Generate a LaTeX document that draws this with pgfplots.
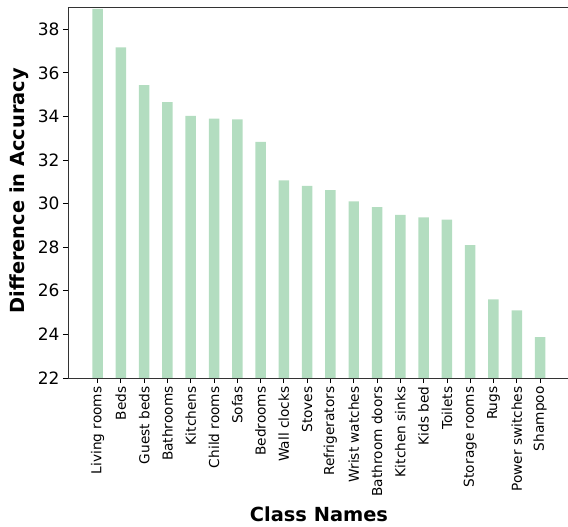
\documentclass[border=0pt]{standalone}
\usepackage{pgfplots}
\pgfplotsset{compat=1.18}
\usepackage{fontspec}
\setmainfont{DejaVu Sans}
\definecolor{barg}{RGB}{179,221,192}

\begin{document}
\begin{tikzpicture}
\begin{axis}[
    scale only axis,
    width=500pt, height=371pt,
    xmin=-1.27, xmax=20.2,
    ymin=22, ymax=39.02,
    axis x line=box, axis y line=left,
    xtick pos=bottom,
    axis line style={-, draw=black!80, line width=0.9pt},
    tick align=outside,
    major tick length=5pt,
    tick style={black, line width=0.8pt},
    xtick={0,...,19},
    xticklabels={Living rooms, Beds, Guest beds, Bathrooms, Kitchens, Child rooms, Sofas, Bedrooms, Wall clocks, Stoves, Refrigerators, Wrist watches, Bathroom doors, Kitchen sinks, Kids bed, Toilets, Storage rooms, Rugs, Power switches, Shampoo},
    xticklabel style={rotate=90, anchor=east, font=\fontsize{13.7}{15}\selectfont},
    ytick={22,24,...,38},
    yticklabel style={font=\fontsize{17}{19}\selectfont},
    /pgf/number format/assume math mode=true,
    xlabel={\textbf{Class Names}},
    ylabel={\textbf{Difference in Accuracy}},
    every axis x label/.style={at={(axis description cs:0.502,-0.367)}, anchor=center, font=\fontsize{19.4}{21}\selectfont},
    every axis y label/.style={at={(axis description cs:-0.098,0.505)}, rotate=90, anchor=center, font=\fontsize{19.4}{21}\selectfont},
]
\addplot[ybar, bar width=0.45, bar shift=0pt, fill=barg, draw=none] coordinates {
    (0,38.93) (1,37.17) (2,35.44) (3,34.66) (4,34.02)
    (5,33.90) (6,33.87) (7,32.83) (8,31.07) (9,30.81)
    (10,30.62) (11,30.10) (12,29.84) (13,29.48) (14,29.37)
    (15,29.26) (16,28.10) (17,25.61) (18,25.10) (19,23.87)
};
\end{axis}
\pgfresetboundingbox
\path[use as bounding box] ([xshift=-68pt,yshift=-149pt]current axis.south west) rectangle ([yshift=7pt]current axis.north east);
\end{tikzpicture}
\end{document}
